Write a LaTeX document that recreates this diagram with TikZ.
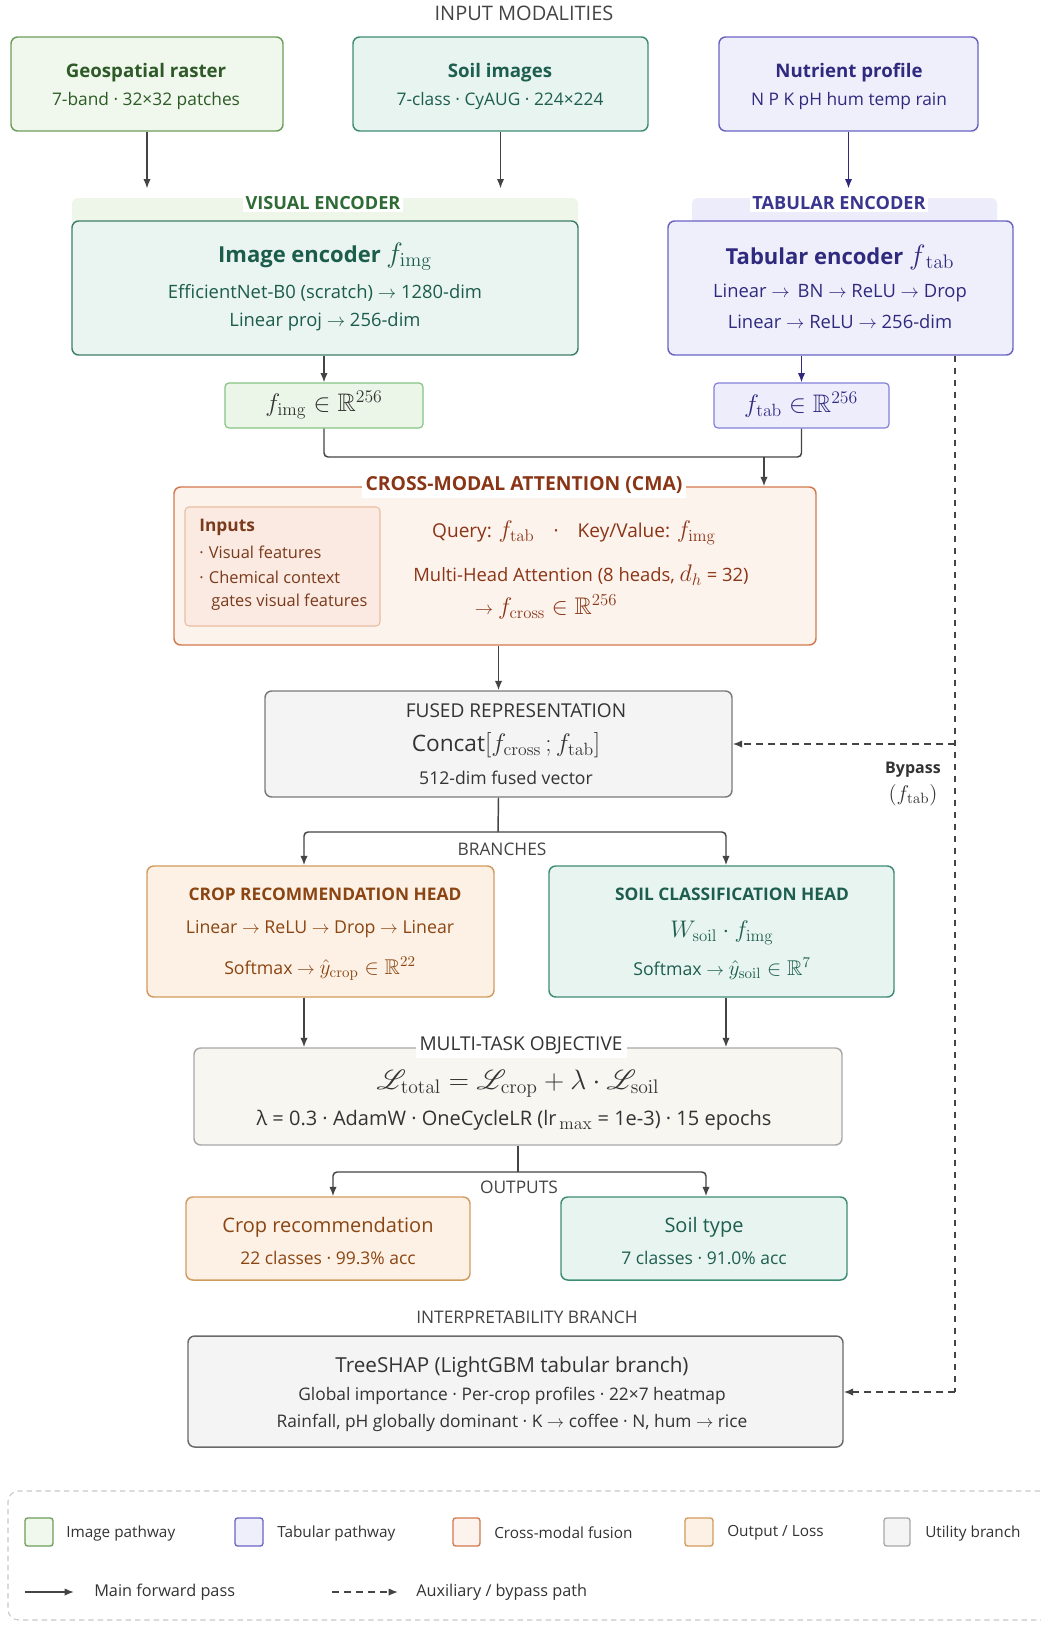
\RequirePackage{fix-cm}
\documentclass[tikz,border=0pt]{standalone}
\usepackage{amsmath,amssymb}
\usepackage{mathrsfs}
\usepackage[no-math]{fontspec}
\setmainfont{Open Sans}
\usetikzlibrary{arrows.meta,fit}
\newcommand{\fsz}[1]{\fontsize{#1}{#1}\selectfont}
\newcommand{\rarr}{$\rightarrow$}
\newcommand{\mm}[2]{{\fsz{#1}$#2$}}
\definecolor{geoF}{HTML}{F0F7EC}\definecolor{geoB}{HTML}{6E9E5A}\definecolor{geoT}{HTML}{2D5A27}
\definecolor{soilF}{HTML}{E8F4F0}\definecolor{soilB}{HTML}{3F8C76}\definecolor{soilT}{HTML}{1D5E4E}
\definecolor{tabF}{HTML}{EFEFFB}\definecolor{tabB}{HTML}{6A64C4}\definecolor{tabT}{HTML}{2F2A7E}
\definecolor{visBand}{HTML}{EEF5E9}\definecolor{visT}{HTML}{2F6B35}
\definecolor{tabBand}{HTML}{ECECFA}\definecolor{tabBT}{HTML}{3A3690}
\definecolor{encF}{HTML}{EAF5F1}\definecolor{encB}{HTML}{3E8068}\definecolor{encT}{HTML}{1C5C4B}
\definecolor{fimgF}{HTML}{EBF6E8}\definecolor{fimgB}{HTML}{86C484}
\definecolor{ftabF}{HTML}{EDEDFC}\definecolor{ftabB}{HTML}{8480DA}
\definecolor{cmaF}{HTML}{FDF3ED}\definecolor{cmaB}{HTML}{D4794E}\definecolor{cmaT}{HTML}{8A3516}
\definecolor{inF}{HTML}{FBEAE1}\definecolor{inB}{HTML}{EBBCA4}\definecolor{inT}{HTML}{7A3A1C}
\definecolor{fusF}{HTML}{F4F4F4}\definecolor{fusB}{HTML}{7A7A7A}\definecolor{txt}{HTML}{333333}
\definecolor{cropF}{HTML}{FCF1E4}\definecolor{cropB}{HTML}{D29B5E}\definecolor{cropT}{HTML}{8B4513}
\definecolor{objF}{HTML}{F7F6F1}\definecolor{objB}{HTML}{A8A8A8}
\definecolor{treeF}{HTML}{F4F4F4}\definecolor{treeB}{HTML}{6A6A6A}
\definecolor{arrowc}{HTML}{444444}\definecolor{navy}{HTML}{2F2A7E}
\definecolor{legB}{HTML}{C8C8C8}\definecolor{hdr}{HTML}{444444}
\begin{document}
\begin{tikzpicture}[x=0.75pt,y=-0.75pt,
  bx/.style={inner sep=0pt, rounded corners=5pt, line width=1.1pt},
  arr/.style={draw=arrowc, line width=1.1pt, -{Latex[length=7pt,width=5.5pt]}},
  ln/.style={draw=arrowc, line width=1.1pt, rounded corners=3pt},
  dsh/.style={draw=arrowc, line width=1.1pt, dash pattern=on 5pt off 4pt},
  hd/.style={font={\fsz{13}}, text=hdr, inner sep=1pt},
  ttl/.style={font={\fsz{14}\bfseries}, inner sep=0pt},
  sub/.style={font={\fsz{13}}, inner sep=0pt},
  big/.style={font={\fsz{16.5}\bfseries}, inner sep=0pt},
  mid/.style={font={\fsz{13.8}}, inner sep=0pt},
  leg/.style={font={\fsz{11.5}}, text=txt, anchor=west, inner sep=0pt},
  sw/.style={inner sep=0pt, rounded corners=2pt, line width=1pt}
]
\useasboundingbox[fill=white] (0,0) rectangle (1040,1625);

% ---------- inputs
\node[hd, font={\fsz{15}}] (hin) at (524,13) {INPUT MODALITIES};
\node[bx, fit={(11,37)(283,131)}, draw=geoB, fill=geoF] (geo) {};
\node[ttl, text=geoT] (geot) at (146,73) {Geospatial raster};
\node[sub, text=geoT] (geos) at (146,101) {7-band · 32×32 patches};
\node[bx, fit={(353,37)(648,131)}, draw=soilB, fill=soilF] (soil) {};
\node[ttl, text=soilT] (soilt) at (500,73) {Soil images};
\node[sub, text=soilT] (soils) at (500,101) {7-class · CyAUG · 224×224};
\node[bx, fit={(719,37)(978,131)}, draw=tabB, fill=tabF] (nut) {};
\node[ttl, text=tabT] (nutt) at (849,73) {Nutrient profile};
\node[sub, text=tabT] (nuts) at (849,101) {N P K pH hum temp rain};

% ---------- encoders
\node[inner sep=0pt, fit={(72,198)(578,226)}, fill=visBand, rounded corners=4pt] (visband) {};
\node[inner sep=0pt, fit={(692,198)(997,226)}, fill=tabBand, rounded corners=4pt] (tabband) {};
\node[bx, fit={(72,221)(578,355)}, draw=encB, fill=encF] (imgenc) {};
\node[bx, fit={(668,221)(1013,355)}, draw=tabB, fill=tabF] (tabenc) {};
\node[font={\fsz{13.6}\bfseries}, text=visT, fill=white, inner sep=2pt] (vislab) at (323,203) {VISUAL ENCODER};
\node[font={\fsz{13.6}\bfseries}, text=tabBT, fill=white, inner sep=2pt] (tablab) at (839,203) {TABULAR ENCODER};
\node[big, text=encT] (imgt) at (325,257) {Image encoder \mm{21}{f_{\mathrm{img}}}};
\node[mid, text=encT] (imgl1) at (325,293) {EfficientNet-B0 (scratch) \rarr{} 1280-dim};
\node[mid, text=encT] (imgl2) at (325,322) {Linear proj \rarr{} 256-dim};
\node[big, text=tabT] (tabt) at (840,257) {Tabular encoder \mm{21}{f_{\,\mathrm{tab}}}};
\node[mid, text=tabT] (tabl1) at (840,293) {Linear \rarr{}\, BN \rarr{} ReLU \rarr{} Drop};
\node[mid, text=tabT] (tabl2) at (840,322) {Linear \rarr{} ReLU \rarr{} 256-dim};

\draw[arr] (geo.south) -- ([yshift=7pt]geo.south |- visband.north);
\draw[arr] (soil.south) -- ([yshift=7pt]soil.south |- visband.north);
\draw[arr, draw=navy] (nut.south) -- ([yshift=7pt]nut.south |- tabband.north);

% ---------- feature vectors
\node[bx, rounded corners=3pt, fit={(225,383)(423,428)}, draw=fimgB, fill=fimgF, line width=0.9pt] (fimg) {};
\node[font={\fsz{19}}, text=txt] (fimgt) at (324,405) {$f_{\mathrm{img}}\in\mathbb{R}^{256}$};
\node[bx, rounded corners=3pt, fit={(714,383)(889,428)}, draw=ftabB, fill=ftabF, line width=0.9pt] (ftab) {};
\node[font={\fsz{19}}, text=tabT] (ftabt) at (801,405) {$f_{\mathrm{tab}}\in\mathbb{R}^{256}$};
\draw[arr] (fimg.north |- imgenc.south) -- (fimg.north);
\draw[arr, draw=navy] (ftab.north |- tabenc.south) -- (ftab.north);

% ---------- CMA
\node[bx, fit={(174,487)(816,645)}, draw=cmaB, fill=cmaF] (cma) {};
\node[font={\fsz{14.5}\bfseries}, text=cmaT, fill=white, inner sep=3pt] (cmat) at (524,485) {CROSS-MODAL ATTENTION (CMA)};
\coordinate (j1) at (764,457);
\draw[ln] (fimg.south) |- (j1);
\draw[ln] (ftab.south) |- (j1);
\draw[arr] (j1) -- (j1 |- cma.north);
\node[bx, rounded corners=3pt, fit={(185,507)(380,626)}, draw=inB, fill=inF, line width=0.8pt] (inbox) {};
\node[font={\fsz{13}\bfseries}, text=inT, anchor=west, inner sep=0pt] (in0) at (199,527) {Inputs};
\node[font={\fsz{12.3}}, text=inT, anchor=west, inner sep=0pt] (in1) at (199,552) {·\hspace{4pt}Visual features};
\node[font={\fsz{12.3}}, text=inT, anchor=west, inner sep=0pt] (in2) at (199,577) {·\hspace{4pt}Chemical context};
\node[font={\fsz{12.3}}, text=inT, anchor=west, inner sep=0pt] (in3) at (211,602) {gates visual features};
\node[font={\fsz{14.3}}, text=cmaT, inner sep=0pt] (cq) at (574,533) {Query: \mm{18}{f_{\mathrm{tab}}}\quad·\quad Key/Value: \mm{18}{f_{\mathrm{img}}}};
\node[mid, text=cmaT] (cm) at (581,575) {Multi-Head Attention (8 heads, \mm{18}{d_h} = 32)};
\node[mid, text=cmaT] (cc) at (546,607) {\rarr{} \mm{18}{f_{\mathrm{cross}}\in\mathbb{R}^{256}}};

% ---------- fused
\node[bx, fit={(265,691)(732,797)}, draw=fusB, fill=fusF] (fused) {};
\node[font={\fsz{14.3}}, text=txt, inner sep=0pt] (fust) at (516,711) {FUSED REPRESENTATION};
\node[font={\fsz{17}}, text=txt, inner sep=0pt] (fusc) at (506,745) {Concat\mm{19}{[f_{\mathrm{cross}}\,;f_{\mathrm{tab}}]}};
\node[font={\fsz{13.2}}, text=txt, inner sep=0pt] (fusl) at (506,778) {512-dim fused vector};
\draw[arr] (fused.north |- cma.south) -- (fused.north);

% ---------- bypass
\coordinate (bx0) at (955,0);
\coordinate (bj) at (955,744);
\coordinate (bt) at (955,1392);
\draw[dsh] (bx0 |- tabenc.south) -- (bt);
\draw[dsh, -{Latex[length=7pt,width=5.5pt]}] (bj) -- (fused.east |- bj);
\node[font={\fsz{12}\bfseries}, text=txt, inner sep=0pt] (byp) at (913,770) {Bypass};
\node[font={\fsz{16}}, text=txt, inner sep=0pt] (bypf) at (913,795) {$(f_{\mathrm{tab}})$};

% ---------- heads
\node[hd] (hbr) at (502,849) {BRANCHES};
\node[bx, fit={(147,866)(494,997)}, draw=cropB, fill=cropF] (crophead) {};
\node[bx, fit={(549,866)(894,997)}, draw=soilB, fill=soilF] (soilhead) {};
\coordinate (jb) at (498,832);
\coordinate (ca) at (304,0);
\coordinate (cb) at (726,0);
\draw[ln] (fused.south) -- (jb);
\draw[arr, rounded corners=3pt] (jb) -| (ca |- crophead.north);
\draw[arr, rounded corners=3pt] (jb) -| (cb |- soilhead.north);
\node[font={\fsz{13}\bfseries}, text=cropT, inner sep=0pt] (cht) at (325,894) {CROP RECOMMENDATION HEAD};
\node[font={\fsz{13.3}}, text=cropT, inner sep=0pt] (ch1) at (320,929) {Linear \rarr{} ReLU \rarr{} Drop \rarr{} Linear};
\node[font={\fsz{13.3}}, text=cropT, inner sep=0pt] (ch2) at (320,969) {Softmax \rarr{} \mm{16}{\hat{y}_{\mathrm{crop}}\in\mathbb{R}^{22}}};
\node[font={\fsz{13}\bfseries}, text=soilT, inner sep=0pt] (sht) at (732,894) {SOIL CLASSIFICATION HEAD};
\node[font={\fsz{18}}, text=soilT, inner sep=0pt] (sh1) at (722,933) {$W_{\mathrm{soil}}\cdot f_{\mathrm{img}}$};
\node[font={\fsz{13.3}}, text=soilT, inner sep=0pt] (sh2) at (722,969) {Softmax \rarr{} \mm{16}{\hat{y}_{\mathrm{soil}}\in\mathbb{R}^{7}}};

% ---------- objective
\node[bx, fit={(194,1048)(842,1145)}, draw=objB, fill=objF] (obj) {};
\node[font={\fsz{14.3}}, text=txt, fill=white, inner sep=3pt] (objt) at (521,1045) {MULTI-TASK OBJECTIVE};
\draw[arr] (ca |- crophead.south) -- (ca |- obj.north);
\draw[arr] (cb |- soilhead.south) -- (cb |- obj.north);
\node[font={\fsz{21}}, text=txt, inner sep=0pt] (objeq) at (518,1084) {$\mathscr{L}_{\mathrm{total}} = \mathscr{L}_{\mathrm{crop}} + \lambda\cdot\mathscr{L}_{\mathrm{soil}}$};
\node[font={\fsz{15}}, text=txt, inner sep=0pt] (objl) at (514,1120) {λ = 0.3 · AdamW · OneCycleLR (lr\mm{19}{_{\,\mathrm{max}}} = 1e-3) · 15 epochs};

% ---------- outputs
\node[hd] (hout) at (519,1187) {OUTPUTS};
\node[bx, fit={(186,1197)(470,1280)}, draw=cropB, fill=cropF] (croprec) {};
\node[bx, fit={(561,1197)(847,1280)}, draw=soilB, fill=soilF] (soiltype) {};
\coordinate (jo) at (518,1172);
\coordinate (oa) at (333,0);
\coordinate (ob) at (706,0);
\draw[ln] (obj.south) -- (jo);
\draw[arr, rounded corners=3pt] (jo) -| (oa |- croprec.north);
\draw[arr, rounded corners=3pt] (jo) -| (ob |- soiltype.north);
\node[font={\fsz{15}}, text=cropT, inner sep=0pt] (crt) at (328,1227) {Crop recommendation};
\node[font={\fsz{13.1}}, text=cropT, inner sep=0pt] (crs) at (328,1258) {22 classes · 99.3\% acc};
\node[font={\fsz{15}}, text=soilT, inner sep=0pt] (stt) at (704,1227) {Soil type};
\node[font={\fsz{13.1}}, text=soilT, inner sep=0pt] (sts) at (704,1258) {7 classes · 91.0\% acc};

% ---------- interpretability
\node[hd] (hint) at (527,1317) {INTERPRETABILITY BRANCH};
\node[bx, fit={(188,1336)(843,1447)}, draw=treeB, fill=treeF] (tree) {};
\draw[dsh, -{Latex[length=7pt,width=5.5pt]}] (bt) -- (tree.east |- bt);
\node[font={\fsz{15.5}}, text=txt, inner sep=0pt] (trt) at (512,1367) {TreeSHAP (LightGBM tabular branch)};
\node[font={\fsz{13}}, text=txt, inner sep=0pt] (tr1) at (512,1396) {Global importance · Per-crop profiles · 22×7 heatmap};
\node[font={\fsz{13}}, text=txt, inner sep=0pt] (tr2) at (512,1423) {Rainfall, pH globally dominant · K \rarr{} coffee · N, hum \rarr{} rice};

% ---------- legend
\node[inner sep=0pt, fit={(8,1491)(1060,1620)}, draw=legB, rounded corners=8pt, dash pattern=on 4pt off 3pt, line width=0.8pt] (legend) {};
\node[sw, fit={(25,1518)(53,1546)}, draw=geoB, fill=geoF] (sw1) {};
\node[leg] (l1) at (66,1533) {Image pathway};
\node[sw, fit={(235,1518)(263,1546)}, draw=tabB, fill=tabF] (sw2) {};
\node[leg] (l2) at (277,1533) {Tabular pathway};
\node[sw, fit={(453,1518)(480,1546)}, draw=cmaB, fill=cmaF] (sw3) {};
\node[leg] (l3) at (494,1533) {Cross-modal fusion};
\node[sw, fit={(685,1518)(713,1546)}, draw=cropB, fill=cropF] (sw4) {};
\node[leg] (l4) at (727,1533) {Output / Loss};
\node[sw, fit={(884,1518)(910,1546)}, draw=objB, fill=fusF] (sw5) {};
\node[leg] (l5) at (925,1533) {Utility branch};
\coordinate (la0) at (25,1592);
\coordinate (la1) at (74,1592);
\draw[arr] (la0) -- (la1);
\node[leg, font={\fsz{12.2}}] (l6) at (94,1592) {Main forward pass};
\coordinate (lb0) at (332,1592);
\coordinate (lb1) at (398,1592);
\draw[dsh, -{Latex[length=7pt,width=5.5pt]}] (lb0) -- (lb1);
\node[leg, font={\fsz{12.2}}] (l7) at (416,1592) {Auxiliary / bypass path};
\end{tikzpicture}
\end{document}
